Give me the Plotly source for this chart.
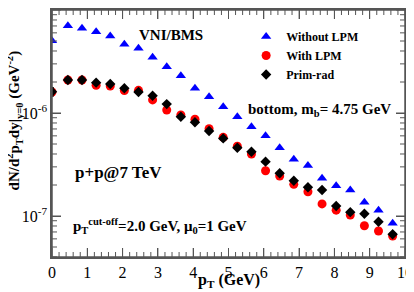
import plotly.graph_objects as go

pt = [0.0, 0.45, 0.85, 1.25, 1.65, 2.05, 2.45, 2.85, 3.25, 3.65, 4.05, 4.45, 4.85,
      5.25, 5.65, 6.05, 6.45, 6.85, 7.25, 7.65, 8.05, 8.45, 8.85, 9.25, 9.65]

without_lpm = [5.03e-6, 7.05e-6, 6.64e-6, 6.16e-6, 5.6e-6, 4.64e-6, 4.25e-6, 3.47e-6,
               2.82e-6, 2.30e-6, 1.74e-6, 1.44e-6, 1.15e-6, 9.2e-7, 7.36e-7, 6.03e-7,
               4.6e-7, 3.55e-7, 3.09e-7, 2.32e-7, 1.97e-7, 1.79e-7, 1.36e-7, 1.14e-7, 8.5e-8]

with_lpm = [1.6e-6, 2.09e-6, 2.09e-6, 1.86e-6, 1.83e-6, 1.65e-6, 1.66e-6, 1.34e-6,
            1.07e-6, 9.57e-7, 8.7e-7, 7.05e-7, 5.8e-7, 4.75e-7, 4.0e-7, 2.75e-7,
            2.44e-7, 2.03e-7, 1.72e-7, 1.31e-7, 1.14e-7, 1.02e-7, 8.05e-8, 7.15e-8, 6.4e-8]

prim_rad = [1.61e-6, 2.09e-6, 2.09e-6, 1.97e-6, 1.91e-6, 1.74e-6, 1.6e-6, 1.47e-6,
            1.22e-6, 9.2e-7, 8.13e-7, 6.68e-7, 5.67e-7, 4.6e-7, 4.21e-7, 3.37e-7,
            2.6e-7, 2.2e-7, 1.9e-7, 1.79e-7, 1.25e-7, 1.09e-7, 1.05e-7, 8.8e-8, 6.64e-8]

prim_rad_err = [1.5e-7, 8e-8, 8e-8, 8e-8, 7e-8, 6e-8, 6e-8, 5e-8, 4e-8, 3e-8, 3e-8,
                2.5e-8, 2e-8, 1.7e-8, 1.5e-8, 1.2e-8, 1e-8, 8e-9, 7e-9, 6e-9, 5e-9,
                4.5e-9, 4e-9, 3.5e-9, 3e-9]

y_major = [1e-7, 1e-6, 1e-5]
y_major_text = ["10<sup>-7</sup>", "10<sup>-6</sup>", "10<sup>-5</sup>"]
x_major = list(range(0, 11))

FONT = "Liberation Serif"
AX = "#555"
Y_LOW = 4e-8

# plot-area geometry in page pixels (page body has an 8px margin)
L, R, T, B = 51.7, 405.0, 10.0, 256.7
def px(x):
    return (x - L) / (R - L)
def py(y):
    return 1 - (y - T) / (B - T)

fig = go.Figure()
fig.add_trace(go.Scatter(x=pt, y=without_lpm, mode="markers", name="<b>Without LPM</b>",
                         marker=dict(symbol="triangle-up", size=9, color="#0000ff")))
fig.add_trace(go.Scatter(x=pt, y=with_lpm, mode="markers", name="<b>With LPM</b>",
                         marker=dict(symbol="circle", size=9, color="#ff0000")))
fig.add_trace(go.Scatter(x=pt, y=prim_rad, mode="markers", name="<b>Prim-rad</b>",
                         marker=dict(symbol="diamond", size=8, color="#000000"),
                         error_y=dict(type="data", array=prim_rad_err, color="#000000",
                                      thickness=1, width=2)))

fig.update_layout(
    xaxis=dict(range=[0, 10], tickvals=x_major, ticks="inside", ticklen=9,
               tickcolor=AX, showline=True, linecolor=AX, linewidth=1.5, mirror="allticks",
               showgrid=False, zeroline=False, automargin=False,
               tickfont=dict(family=FONT, size=16, color="#000")),
    yaxis=dict(type="log", range=[-7.398, -5], tickvals=y_major, ticktext=y_major_text,
               ticks="inside", ticklen=9, tickcolor=AX, showline=True, linecolor=AX,
               linewidth=1.5, mirror="allticks", showgrid=False, zeroline=False, automargin=False,
               tickfont=dict(family=FONT, size=16, color="#000")),
    width=406, height=284,
    margin=dict(l=44, r=9, t=2, b=35, autoexpand=False),
    plot_bgcolor="white",
    showlegend=True,
    legend=dict(x=px(246), y=py(22), xanchor="left", yanchor="top",
                bgcolor="rgba(0,0,0,0)", font=dict(family=FONT, size=12, color="#000"),
                tracegroupgap=0),
)

# frame and tick marks as shapes (positions taken through the axes' own scales)
shapes = [dict(type="rect", xref="paper", yref="paper", x0=0, x1=1, y0=0, y1=1,
               line=dict(color=AX, width=1.5), layer="above")]
x_minor = [i / 5 for i in range(0, 51)]
for xv in x_minor:
    ln = 9 if abs(xv - round(xv)) < 1e-9 else 5
    for anchor, sgn in ((0, 1), (1, -1)):
        shapes.append(dict(type="line", xref="x", yref="paper", x0=xv, x1=xv,
                           ysizemode="pixel", yanchor=anchor, y0=0, y1=sgn * ln,
                           line=dict(color=AX, width=1)))
y_ticks = []
for e in range(-8, -4):
    for m in range(1, 10):
        val = m * 10.0 ** e
        if Y_LOW <= val <= 1.0001e-5:
            y_ticks.append((val, 9 if m == 1 else 5))
for yv, ln in y_ticks:
    for anchor, sgn in ((0, 1), (1, -1)):
        shapes.append(dict(type="line", yref="y", xref="paper", y0=yv, y1=yv,
                           xsizemode="pixel", xanchor=anchor, x0=0, x1=sgn * ln,
                           line=dict(color=AX, width=1)))
fig.update_layout(shapes=shapes)

ann = dict(xref="paper", yref="paper", showarrow=False, xanchor="left", yanchor="middle")
fig.add_annotation(ann, x=px(137), y=py(35),
                   text="<b>VNI/BMS</b>", font=dict(family=FONT, size=15, color="#000"))
fig.add_annotation(ann, x=px(246), y=py(110),
                   text="<b>bottom, m<sub>b</sub>= 4.75 GeV</b>", font=dict(family=FONT, size=15, color="#000"))
fig.add_annotation(ann, x=px(73), y=py(172),
                   text="<b>p+p@7 TeV</b>", font=dict(family=FONT, size=17, color="#000"))
fig.add_annotation(ann, x=px(71), y=py(226),
                   text="<b>p<sub>T</sub><sup>cut-off</sup>=2.0 GeV, μ<sub>0</sub>=1 GeV</b>",
                   font=dict(family=FONT, size=15, color="#000"))
# axis titles
fig.add_annotation(xref="paper", yref="paper", showarrow=False, xanchor="center", yanchor="middle",
                   x=px(229), y=py(280), text="<b>p<sub>T</sub> (GeV)</b>",
                   font=dict(family=FONT, size=16, color="#000"))
fig.add_annotation(xref="paper", yref="paper", showarrow=False, xanchor="center", yanchor="middle",
                   x=px(14), y=py(120), textangle=-90,
                   text="<b>dN/d<sup>2</sup>p<sub>T</sub>dy|<sub>y=0</sub> (GeV<sup>-2</sup>)</b>",
                   font=dict(family=FONT, size=15, color="#000"))

fig.write_html("out.html")
